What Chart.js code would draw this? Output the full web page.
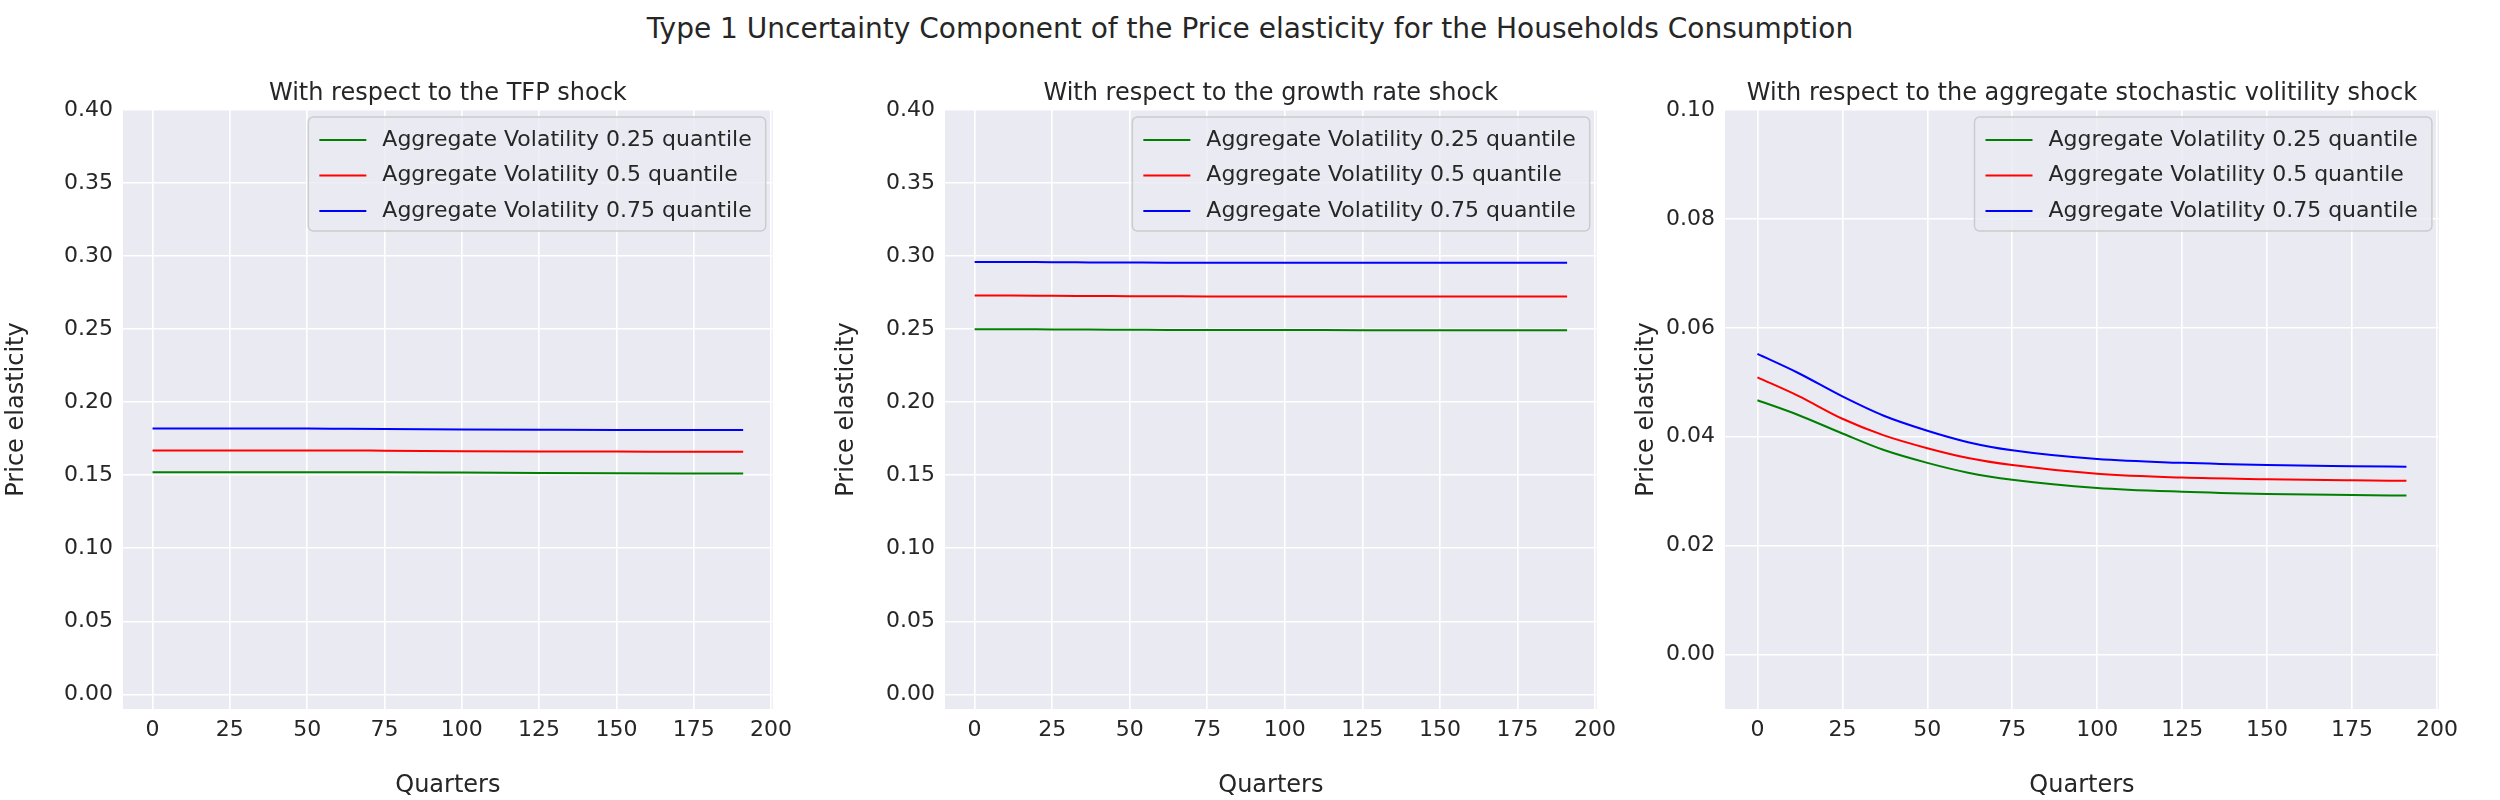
<!DOCTYPE html>
<html>
<head>
<meta charset="utf-8">
<script src="https://cdn.jsdelivr.net/npm/chart.js@4/dist/chart.umd.min.js"></script>
<style>
body { margin: 0; background: #fff; width: 2500px; height: 800px; position: relative; overflow: hidden; font-family: "DejaVu Sans", sans-serif; }
#sup { position: absolute; top: 12px; left: 0; width: 2500px; text-align: center; font-size: 28px; color: #262626; }
.box { position: absolute; top: 0; height: 800px; }
</style>
</head>
<body>
<div id="sup">Type 1 Uncertainty Component of the Price elasticity for the Households Consumption</div>
<div class="box" style="left:0;width:800px"><canvas id="c1"></canvas></div>
<div class="box" style="left:830px;width:794px"><canvas id="c2"></canvas></div>
<div class="box" style="left:1630px;width:836px"><canvas id="c3"></canvas></div>
<script>
const quarters = [0, 12, 25, 37, 50, 62, 75, 100, 125, 150, 175, 191];
const seriesLabels = ['Aggregate Volatility 0.25 quantile', 'Aggregate Volatility 0.5 quantile', 'Aggregate Volatility 0.75 quantile'];
const seriesColors = ['green', 'red', 'blue'];

const tfpLow  = [0.152, 0.152, 0.152, 0.152, 0.152, 0.152, 0.152, 0.1518, 0.1515, 0.1513, 0.1512, 0.1512];
const tfpMid  = [0.167, 0.167, 0.167, 0.167, 0.167, 0.167, 0.1668, 0.1665, 0.1663, 0.1662, 0.1661, 0.166];
const tfpHigh = [0.182, 0.182, 0.182, 0.182, 0.182, 0.1818, 0.1816, 0.1813, 0.1811, 0.181, 0.181, 0.1809];

const grLow  = [0.25, 0.25, 0.2498, 0.2497, 0.2496, 0.2495, 0.2494, 0.2494, 0.2493, 0.2493, 0.2493, 0.2493];
const grMid  = [0.273, 0.273, 0.2728, 0.2727, 0.2726, 0.2725, 0.2724, 0.2724, 0.2724, 0.2723, 0.2723, 0.2723];
const grHigh = [0.296, 0.296, 0.2958, 0.2957, 0.2956, 0.2955, 0.2955, 0.2955, 0.2954, 0.2954, 0.2954, 0.2954];

const svLow  = [0.0467, 0.0440, 0.0406, 0.0376, 0.0352, 0.0334, 0.0321, 0.0306, 0.0299, 0.0295, 0.0293, 0.0292];
const svMid  = [0.0509, 0.0475, 0.0433, 0.0403, 0.0379, 0.0361, 0.0348, 0.0332, 0.0325, 0.0322, 0.0320, 0.0319];
const svHigh = [0.0552, 0.0517, 0.0474, 0.0439, 0.0411, 0.0390, 0.0375, 0.0359, 0.0352, 0.0348, 0.0346, 0.0345];

const FONT = '"DejaVu Sans", sans-serif';
const TXT = '#262626';

const decor = {
    id: 'decor',
    afterDraw(chart) {
        const ctx = chart.ctx, a = chart.chartArea;
        ctx.save();
        ctx.fillStyle = TXT;
        ctx.font = '24px ' + FONT;
        ctx.textAlign = 'center';
        ctx.textBaseline = 'bottom';
        ctx.fillText(chart.options.plugins.decor.title, (a.left + a.right) / 2, a.top - 4);
        // legend
        ctx.font = '22px ' + FONT;
        let tw = 0;
        seriesLabels.forEach(l => { tw = Math.max(tw, ctx.measureText(l).width); });
        const w = tw + 88, h = 114;
        const x = a.right - 7 - w, y = a.top + 7;
        ctx.beginPath();
        ctx.roundRect(x, y, w, h, 5);
        ctx.fillStyle = 'rgba(234,234,242,0.8)';
        ctx.fill();
        ctx.strokeStyle = '#cccccc';
        ctx.lineWidth = 1.5;
        ctx.stroke();
        ctx.textAlign = 'left';
        ctx.textBaseline = 'middle';
        seriesLabels.forEach((l, i) => {
            const ry = y + 23 + i * 35.5;
            ctx.strokeStyle = seriesColors[i];
            ctx.lineWidth = 2;
            ctx.beginPath();
            ctx.moveTo(x + 11, ry);
            ctx.lineTo(x + 58, ry);
            ctx.stroke();
            ctx.fillStyle = TXT;
            ctx.fillText(l, x + 74, ry);
        });
        ctx.restore();
    }
};

function makeChart(id, title, yMin, yMax, yStep, yWidth, yDigits, values) {
    new Chart(document.getElementById(id), {
        type: 'line',
        data: {
            datasets: values.map((v, i) => ({
                label: seriesLabels[i],
                data: quarters.map((q, j) => ({ x: q, y: v[j] })),
                borderColor: seriesColors[i],
                borderWidth: 2,
                pointRadius: 0,
                cubicInterpolationMode: 'monotone'
            }))
        },
        options: {
            responsive: true,
            maintainAspectRatio: false,
            animation: false,
            layout: { padding: { top: 110, right: 0, bottom: 0, left: 0 } },
            plugins: { legend: { display: false }, tooltip: { enabled: false }, decor: { title: title } },
            scales: {
                x: {
                    type: 'linear', min: -9.55, max: 200.55,
                    afterBuildTicks: s => { s.ticks = [0, 25, 50, 75, 100, 125, 150, 175, 200].map(v => ({ value: v })); },
                    afterFit: s => { s.height = 91; },
                    grid: { color: '#ffffff', lineWidth: 1.6, drawTicks: false },
                    border: { display: false },
                    ticks: { color: TXT, font: { family: FONT, size: 22 }, padding: 8, maxRotation: 0 },
                    title: { display: true, text: 'Quarters', color: TXT, font: { family: FONT, size: 24 }, padding: 0 }
                },
                y: {
                    min: yMin, max: yMax,
                    afterBuildTicks: s => {
                        const t = [];
                        for (let v = 0; v <= yMax + 1e-9; v += yStep) t.push({ value: +v.toFixed(4) });
                        s.ticks = t;
                    },
                    afterFit: s => { s.width = yWidth; },
                    grid: { color: '#ffffff', lineWidth: 1.6, drawTicks: false },
                    border: { display: false },
                    ticks: { color: TXT, font: { family: FONT, size: 22 }, padding: 10, callback: v => v.toFixed(yDigits) },
                    title: { display: true, text: 'Price elasticity', color: TXT, font: { family: FONT, size: 24 }, padding: 2 }
                }
            }
        },
        plugins: [{
            id: 'bg',
            beforeDraw(chart) {
                const a = chart.chartArea, ctx = chart.ctx;
                ctx.save();
                ctx.fillStyle = '#EAEAF2';
                ctx.fillRect(a.left, a.top, a.right - a.left, a.bottom - a.top);
                ctx.restore();
            }
        }, decor]
    });
}

makeChart('c1', 'With respect to the TFP shock', -0.01, 0.40, 0.05, 123, 2, [tfpLow, tfpMid, tfpHigh]);
makeChart('c2', 'With respect to the growth rate shock', -0.01, 0.40, 0.05, 115, 2, [grLow, grMid, grHigh]);
makeChart('c3', 'With respect to the aggregate stochastic volitility shock', -0.01, 0.10, 0.02, 95, 2, [svLow, svMid, svHigh]);
</script>
</body>
</html>
